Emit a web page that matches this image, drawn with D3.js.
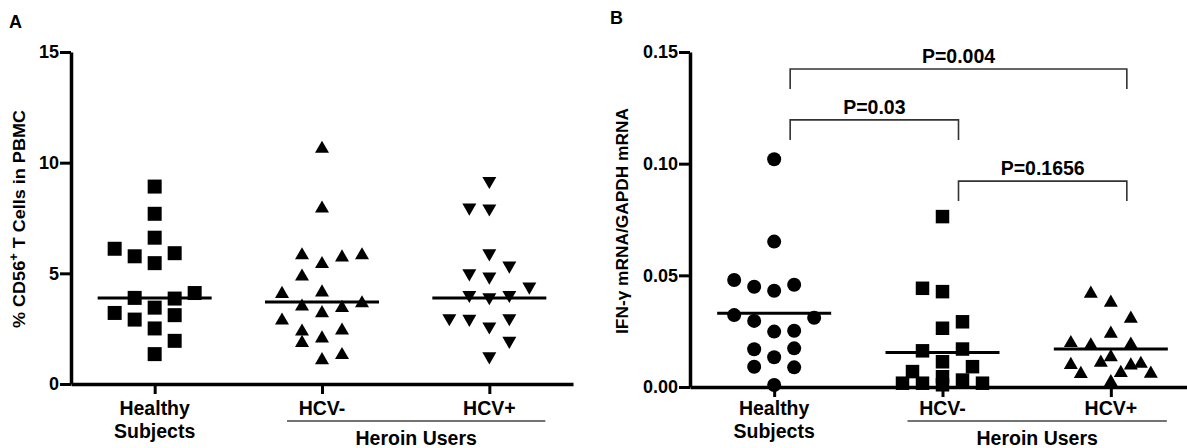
<!DOCTYPE html>
<html>
<head>
<meta charset="utf-8">
<script src="https://cdn.jsdelivr.net/npm/d3@7"></script>
<style>
  body { margin: 0; background: #fff; }
  svg { display: block; font-family: "Liberation Sans", Arial, sans-serif; font-weight: bold; }
</style>
</head>
<body>
<script>
//categories shared by both panels
var categories = ["Healthy Subjects", "HCV-", "HCV+"];
var categoryLines = [["Healthy", "Subjects"], ["HCV-"], ["HCV+"]];
var groupLabel = "Heroin Users";

//panel A: % CD56+ T cells in PBMC
var aTicks = [0, 5, 10, 15];
var aHealthy = [8.92, 7.69, 6.61, 6.11, 5.91, 5.77, 5.46, 4.11, 3.89, 3.86, 3.45, 3.21, 3.11, 2.91, 2.51, 1.95, 1.35];
var aHealthySlot = [0, 0, 0, -2, 1, -1, 0, 2, -1, 1, 0, -2, 1, -1, 0, 1, 0];
var aHcvNeg = [10.72, 8.02, 5.91, 5.51, 5.81, 5.91, 4.95, 4.16, 4.23, 3.59, 3.53, 3.74, 3.29, 2.96, 2.46, 2.51, 2.15, 1.95, 1.17, 1.40];
var aHcvNegSlot = [0, 0, -1, 0, 1, 2, -1, -2, 0, -1, 1, 2, 0, -2, -1, 1, 0, -1, 0, 1];
var aHcvPos = [9.08, 7.88, 7.84, 5.81, 4.91, 4.76, 5.26, 4.31, 3.93, 3.83, 3.93, 2.88, 2.85, 2.51, 2.88, 1.86, 1.16];
var aHcvPosSlot = [0, -1, 0, 0, -1, 0, 1, 2, -1, 0, 1, -2, -1, 0, 1, 1, 0];
var aMedians = [3.89, 3.71, 3.89];

//panel B: IFN-gamma mRNA / GAPDH mRNA
var bTicks = [0, 0.05, 0.10, 0.15];
var bHealthy = [0.102, 0.0651, 0.0479, 0.0449, 0.0431, 0.0458, 0.0322, 0.0296, 0.0310, 0.0248, 0.0252, 0.0169, 0.0173, 0.0133, 0.0091, 0.0088, 0.0009];
var bHealthySlot = [0, 0, -2, -1, 0, 1, -2, -1, 2, 0, 1, -1, 1, 0, -1, 1, 0];
var bHcvNeg = [0.0763, 0.0442, 0.0427, 0.0292, 0.0263, 0.0170, 0.0162, 0.0113, 0.0091, 0.0069, 0.0046, 0.0031, 0.0017, 0.0017, 0.0017, 0.0010];
var bHcvNegSlot = [0, -1, 0, 1, 0, 1, -1, 0, 1.5, -1.5, 0, 1, -2, -1, 2, 0];
var bHcvPos = [0.0427, 0.0387, 0.0315, 0.0248, 0.0206, 0.0196, 0.0199, 0.0143, 0.0108, 0.0068, 0.0118, 0.0072, 0.0106, 0.0113, 0.0069, 0.0031];
var bHcvPosSlot = [-1, 0, 1, 0, -2, -1, 1, 0, -2, -1.5, -0.5, 0.5, 1, 1.5, 2, 0];
var bMedians = [0.033, 0.0154, 0.0170];

//p value brackets (bracket height in data units)
var pFrom = ["Healthy Subjects", "Healthy Subjects", "HCV-"];
var pTo = ["HCV+", "HCV-", "HCV+"];
var pLabels = ["P=0.004", "P=0.03", "P=0.1656"];
var pHeights = [0.1424, 0.1196, 0.0922];

document.addEventListener("DOMContentLoaded", init);

function init(){
    var width = 1187, height = 448;
    var svg = d3.select("body").append("svg")
        .attr("width", width)
        .attr("height", height);

    //panel A
    drawPanel({
        letter: "A", letterX: 9, letterY: 28,
        xRange: [71, 573], yRange: [384, 52], yMax: 15,
        ticks: aTicks, format: d3.format("d"),
        yLabelX: 25, yLabelY: 219, yLabelLen: 218,
        yLabel: function(t){
            t.append("tspan").text("% CD56");
            t.append("tspan").attr("font-size", 12).attr("dy", -7).text("+");
            t.append("tspan").attr("dy", 7).text(" T Cells in PBMC");
        },
        groups: [
            {values: aHealthy, slots: aHealthySlot, shape: "square", size: 14},
            {values: aHcvNeg, slots: aHcvNegSlot, shape: "up", size: 14},
            {values: aHcvPos, slots: aHcvPosSlot, shape: "down", size: 14}
        ],
        medians: aMedians,
        brackets: false
    });

    //panel B
    drawPanel({
        letter: "B", letterX: 610, letterY: 24,
        xRange: [690, 1195], yRange: [387, 52], yMax: 0.15,
        ticks: bTicks, format: d3.format(".2f"),
        yLabelX: 628, yLabelY: 221, yLabelLen: 226,
        yLabel: function(t){
            t.text("IFN-\u03b3 mRNA/GAPDH mRNA");
        },
        groups: [
            {values: bHealthy, slots: bHealthySlot, shape: "circle", size: 14},
            {values: bHcvNeg, slots: bHcvNegSlot, shape: "square", size: 13.5},
            {values: bHcvPos, slots: bHcvPosSlot, shape: "up", size: 14}
        ],
        medians: bMedians,
        brackets: true
    });

    function drawPanel(p){
        var x = d3.scalePoint().domain(categories).range(p.xRange).padding(0.5);
        var y = d3.scaleLinear().domain([0, p.yMax]).range(p.yRange);
        var slot = 20; //px between jitter columns

        var g = svg.append("g");

        //panel letter
        g.append("text")
            .attr("x", p.letterX).attr("y", p.letterY)
            .attr("font-size", 18)
            .text(p.letter);

        //y axis
        var yAxis = g.append("g")
            .attr("transform", "translate(" + p.xRange[0] + ",0)")
            .call(d3.axisLeft(y).tickValues(p.ticks).tickFormat(p.format)
                .tickSize(11).tickSizeOuter(0).tickPadding(1));
        //x axis
        var xAxis = g.append("g")
            .attr("transform", "translate(0," + p.yRange[0] + ")")
            .call(d3.axisBottom(x).tickFormat("").tickSize(10).tickSizeOuter(0));

        [yAxis, xAxis].forEach(function(a){
            a.select(".domain").attr("stroke", "#000").attr("stroke-width", 3.5);
            a.selectAll(".tick line").attr("stroke", "#000").attr("stroke-width", 3);
        });
        yAxis.selectAll(".tick text")
            .attr("font-size", 18)
            .attr("font-family", "Liberation Sans, Arial, sans-serif")
            .attr("font-weight", "bold")
            .attr("fill", "#000");

        //y axis title
        var yt = g.append("text")
            .attr("transform", "translate(" + p.yLabelX + "," + p.yLabelY + ") rotate(-90)")
            .attr("text-anchor", "middle")
            .attr("font-size", 17)
            .attr("textLength", p.yLabelLen)
            .attr("lengthAdjust", "spacingAndGlyphs");
        p.yLabel(yt);

        //category labels
        categories.forEach(function(c, i){
            var t = g.append("text")
                .attr("text-anchor", "middle")
                .attr("font-size", 19.5);
            categoryLines[i].forEach(function(line, j){
                t.append("tspan")
                    .attr("x", x(c))
                    .attr("y", 415 + j * 23)
                    .text(line);
            });
        });

        //heroin users group line
        var gx0 = x("HCV-") - 35, gx1 = x("HCV+") + 56;
        g.append("line")
            .attr("x1", gx0).attr("x2", gx1)
            .attr("y1", 421).attr("y2", 421)
            .attr("stroke", "#444").attr("stroke-width", 1.5);
        g.append("text")
            .attr("x", (gx0 + gx1) / 2).attr("y", 445)
            .attr("text-anchor", "middle")
            .attr("font-size", 19.5)
            .text(groupLabel);

        //points
        p.groups.forEach(function(grp, i){
            var cx = x(categories[i]);
            var s = grp.size;
            //triangles: shift so the box centre sits on the value
            var nudge = s / (4 * Math.sqrt(3));
            g.append("g").selectAll("path")
                .data(grp.values)
                .enter()
                .append("path")
                .attr("fill", "#000")
                .attr("transform", function(d, k){
                    var tx = cx + grp.slots[k] * slot, ty = y(d);
                    if (grp.shape === "down") return "translate(" + tx + "," + (ty - nudge) + ") rotate(180)";
                    if (grp.shape === "up") return "translate(" + tx + "," + (ty + nudge) + ")";
                    return "translate(" + tx + "," + ty + ")";
                })
                .attr("d", function(){
                    if (grp.shape === "square") return d3.symbol(d3.symbolSquare, s * s)();
                    if (grp.shape === "circle") return d3.symbol(d3.symbolCircle, Math.PI * s * s / 4)();
                    return d3.symbol(d3.symbolTriangle, s * s * Math.sqrt(3) / 4)();
                });

            //median line
            g.append("line")
                .attr("x1", cx - 57).attr("x2", cx + 57)
                .attr("y1", y(p.medians[i])).attr("y2", y(p.medians[i]))
                .attr("stroke", "#000").attr("stroke-width", 3);
        });

        //comparison brackets
        if (p.brackets){
            var off = 16, drop = 20;
            pLabels.forEach(function(lab, i){
                var x0 = x(pFrom[i]) + off, x1 = x(pTo[i]) + off, yy = y(pHeights[i]);
                g.append("path")
                    .attr("d", "M" + x0 + "," + (yy + drop) + "V" + yy + "H" + x1 + "V" + (yy + drop))
                    .attr("fill", "none")
                    .attr("stroke", "#333")
                    .attr("stroke-width", 1.6);
                g.append("text")
                    .attr("x", (x0 + x1) / 2).attr("y", yy - 6)
                    .attr("text-anchor", "middle")
                    .attr("font-size", 19.5)
                    .text(lab);
            });
        }
    }
}
</script>
</body>
</html>
